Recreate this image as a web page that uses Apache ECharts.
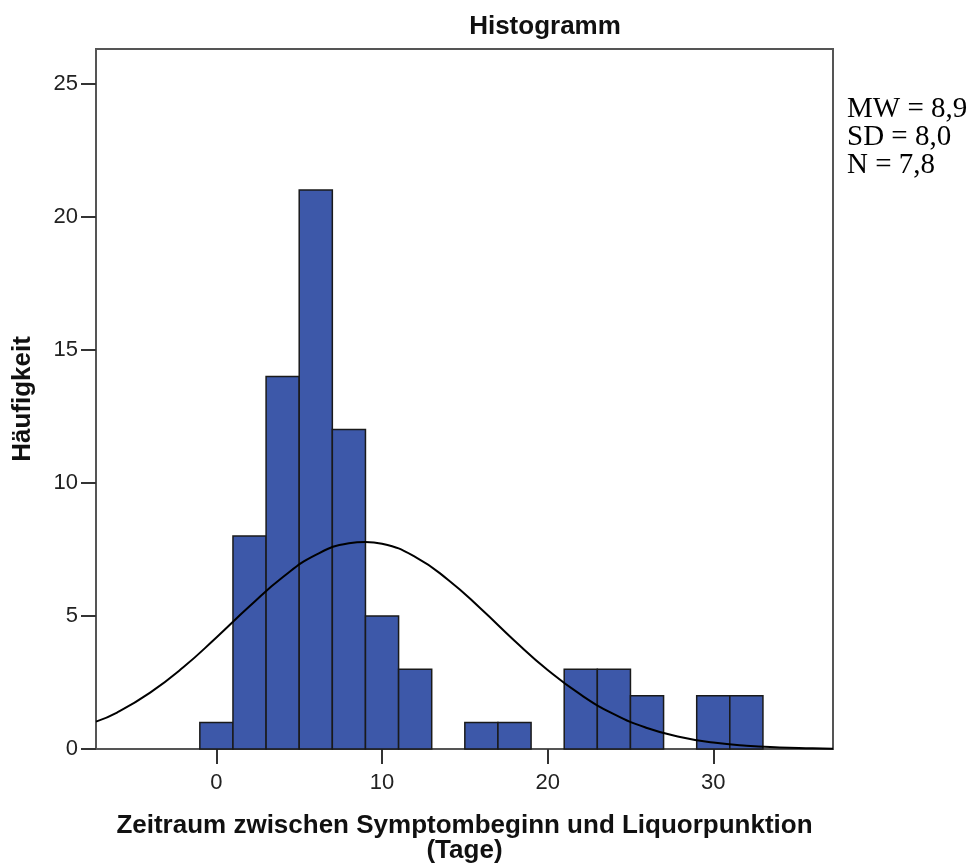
<!DOCTYPE html>
<html>
<head>
<meta charset="utf-8">
<script src="https://cdn.jsdelivr.net/npm/echarts@6/dist/echarts.min.js"></script>
<style>
  html, body { margin: 0; padding: 0; background: #fff; }
  #chart { width: 975px; height: 866px; }
</style>
</head>
<body>
<div id="chart"></div>
<script>
// Klassengrenzen (Tage) und Häufigkeiten je Klasse
const binStart = [-1, 1, 3, 5, 7, 9, 11, 13, 15, 17, 19, 21, 23, 25, 27, 29, 31];
const binEnd   = [1, 3, 5, 7, 9, 11, 13, 15, 17, 19, 21, 23, 25, 27, 29, 31, 33];
const counts   = [1, 8, 14, 21, 12, 5, 3, 0, 1, 1, 0, 3, 3, 2, 0, 2, 2];

// Normalverteilungskurve
const curveX = [-7.27, -6, -4, -2, 0, 2, 4, 6, 8, 9, 10, 12, 14, 16, 18, 20, 22, 24, 26, 28, 30, 32, 34, 36, 37.23];
const curveY = [1.03, 1.37, 2.12, 3.07, 4.19, 5.36, 6.45, 7.29, 7.73, 7.78, 7.71, 7.22, 6.35, 5.25, 4.07, 2.97, 2.04, 1.31, 0.79, 0.45, 0.24, 0.12, 0.06, 0.03, 0.01];

const xTicks = [0, 10, 20, 30];
const yTicks = [0, 5, 10, 15, 20, 25];

const statsText = ["MW = 8,9", "SD = 8,0", "N = 7,8"];

var barData = [];
for (let i = 0; i < counts.length; i++) {
  if (counts[i] > 0) barData.push([binStart[i], binEnd[i], counts[i]]);
}
var curveData = curveX.map((x, i) => [x, curveY[i]]);

var myChart = echarts.init(document.getElementById("chart"));

var sans = "'Liberation Sans', Arial, sans-serif";
var frame = "#555";

var option = {
  backgroundColor: "#fff",
  animation: false,
  grid: {
    left: 96,
    right: 142,
    top: 49,
    bottom: 117,
    show: true,
    borderColor: frame,
    borderWidth: 2,
    containLabel: false,
    outerBoundsMode: "none",
  },
  graphic: [
    {
      type: "text",
      x: 545,
      y: 27,
      style: {
        text: "Histogramm",
        font: "bold 26px " + sans,
        fill: "#111",
        textAlign: "center",
        textVerticalAlign: "middle",
      },
    },
    {
      type: "text",
      x: 847,
      y: 95,
      style: {
        text: statsText.join("\n"),
        font: "29px 'Liberation Serif', 'Times New Roman', serif",
        lineHeight: 28,
        fill: "#000",
      },
    },
  ],
  xAxis: {
    type: "value",
    min: -7.27,
    max: 37.23,
    name: "Zeitraum zwischen Symptombeginn und Liquorpunktion\n(Tage)",
    nameLocation: "middle",
    nameGap: 64,
    nameTextStyle: {
      fontFamily: sans,
      fontWeight: "bold",
      fontSize: 26,
      lineHeight: 25,
      color: "#111",
    },
    axisLine: { show: true, onZero: false, lineStyle: { color: frame, width: 2 } },
    axisTick: {
      show: true,
      customValues: xTicks,
      length: 15,
      lineStyle: { color: "#333", width: 2 },
    },
    axisLabel: {
      customValues: xTicks,
      fontFamily: sans,
      fontSize: 22,
      color: "#222",
      margin: 23,
    },
    splitLine: { show: false },
  },
  yAxis: {
    type: "value",
    min: 0,
    max: 26.3,
    name: "Häufigkeit",
    nameLocation: "middle",
    nameGap: 60,
    nameTextStyle: {
      fontFamily: sans,
      fontWeight: "bold",
      fontSize: 26,
      color: "#111",
    },
    axisLine: { show: true, onZero: false, lineStyle: { color: frame, width: 2 } },
    axisTick: {
      show: true,
      customValues: yTicks,
      length: 15,
      lineStyle: { color: "#333", width: 2 },
    },
    axisLabel: {
      customValues: yTicks,
      fontFamily: sans,
      fontSize: 22,
      color: "#222",
      margin: 18,
    },
    splitLine: { show: false },
  },
  series: [
    {
      type: "custom",
      data: barData,
      encode: { x: [0, 1], y: 2 },
      z: 2,
      renderItem: function (params, api) {
        var p0 = api.coord([api.value(0), api.value(2)]);
        var p1 = api.coord([api.value(1), 0]);
        return {
          type: "rect",
          shape: { x: p0[0], y: p0[1], width: p1[0] - p0[0], height: p1[1] - p0[1] },
          style: { fill: "#3d58a9", stroke: "#1a1a1a", lineWidth: 1.5 },
        };
      },
    },
    {
      type: "line",
      data: curveData,
      smooth: true,
      showSymbol: false,
      symbol: "none",
      clip: true,
      z: 3,
      lineStyle: { color: "#000", width: 2 },
    },
  ],
};

myChart.setOption(option);
</script>
</body>
</html>
